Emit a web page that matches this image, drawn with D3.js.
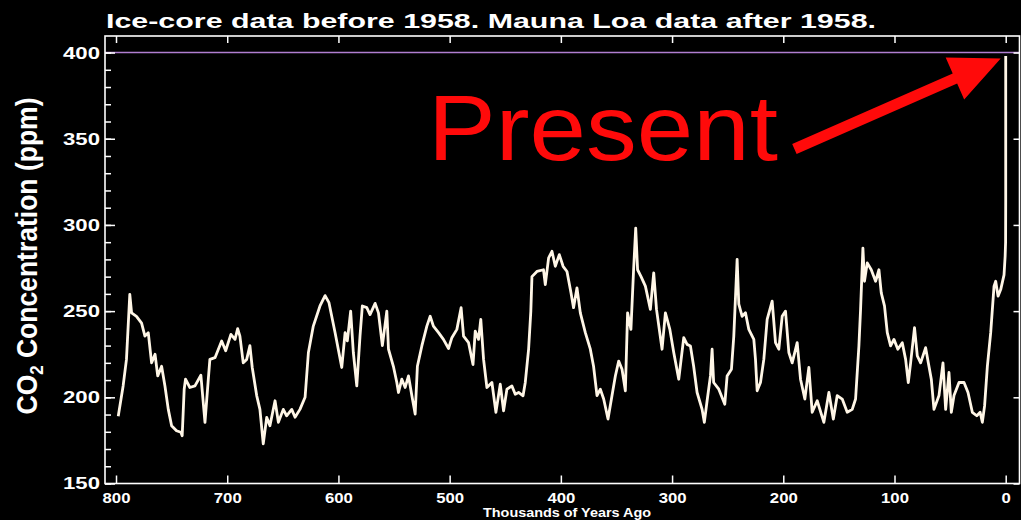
<!DOCTYPE html>
<html>
<head>
<meta charset="utf-8">
<script src="https://cdn.jsdelivr.net/npm/d3@7/dist/d3.min.js"></script>
<style>
  html, body { margin: 0; padding: 0; background: #000; }
  svg { display: block; }
  text { font-family: "Liberation Sans", Arial, sans-serif; }
</style>
</head>
<body>
<svg id="chart" width="1021" height="520"></svg>
<script>
// CO2 record: ice cores before 1958, Mauna Loa afterwards.
// Age in thousands of years before present, CO2 in ppm.
const kyrAgo = [
  798, 793.6, 790.6, 787.6, 786, 781.6, 777, 774, 771, 768, 764.9, 762.5, 759, 756, 753, 750,
  745.6, 741.7, 740.5, 738.7, 737.5, 733.6, 729, 723.7, 720, 717, 715.6, 711, 705, 701.4, 696.7,
  693, 690.6, 688.6, 685.6, 682.5, 679.6, 677.5, 673.5, 670.6, 667.6, 664.5, 661.6, 657, 654,
  649.6, 646.6, 642, 639, 634.6, 630, 627, 622.6, 616.6, 612, 608.5,
  603, 597, 594, 592, 589, 586.6, 583.5, 580.6, 578.5, 574.5, 571.6, 567, 564, 560.5, 556.5,
  555, 550.6, 547.5, 546, 543, 540, 537, 534, 531, 529, 525, 520.5, 517.5, 514.6, 510, 505.6,
  501, 498, 493.5, 489.7, 487.5, 483, 479, 477, 474, 472, 469.5, 466.5, 462, 458.4, 454.5,
  451.5, 448.5, 444, 441, 438, 434, 432, 429, 427, 426, 421.5, 415.6, 414, 411, 408, 405,
  401.4, 398, 394.5, 390.9, 388.6, 385.5, 382.5, 378, 373.5, 370.6, 367.5, 364.5, 361.5,
  357.6, 354, 351, 348, 345, 342, 340, 337, 334.6, 332.7, 331, 328, 324, 319.5, 316.5, 314,
  309, 306, 302, 298.5, 294,
  289.5, 286.5, 283.5, 280.6, 277.5, 273, 271, 268.5, 265.5, 264, 262.6, 258, 252.6, 250.5,
  246.6, 244.5, 241.5, 240, 237, 234, 231, 226.5, 225, 223.5, 220.5, 217.5, 214.5, 210, 207,
  204, 201,
  198, 195, 192, 187.5, 184.5, 180.6, 177, 174, 169.5, 163.5, 159, 155, 151.5, 147, 142.5,
  138, 135, 132, 130.5, 128.4, 127, 124.5, 120.9, 117, 114, 111.9, 109, 106.5, 103.5, 100.5,
  97, 93, 90, 87.6, 85.5, 82, 79.5, 76.5, 72, 69.6, 66.9, 64.5, 60, 56.4, 54, 51, 48.9, 46.5,
  42, 37.5, 33.9, 30, 26, 23, 21, 19, 16.5, 13.5, 10.5, 9, 6.9, 4.5, 1.5, 0.5, 0.1, 0, 0
];
const co2ppm = [
  189, 206.6, 222, 259.7, 249, 247, 243, 235.5, 237.5, 220, 225, 212.4, 218, 206.6, 193, 183.5,
  180.6, 179.7, 177.7, 204.7, 210.5, 205.7, 206.6, 212.8, 185.5, 210.5, 222, 223, 232.7, 227, 236.5,
  233.6, 239.8, 235.5, 220, 222, 230, 217.3, 201, 193, 173, 188.4, 183.5, 198, 185.5,
  193, 189.3, 193, 188.4, 193, 200, 226, 241.3, 253, 259, 254.9,
  237.5, 217.3, 237.5, 232.7, 250, 226, 206.6, 235.5, 253, 252, 248, 254.5, 249, 230, 250,
  227.9, 218, 208.6, 202.8, 210.5, 205.7, 212.4, 201, 190.3, 218, 229.8, 241.3, 247, 241.3, 237.5, 233.6,
  228.3, 234.6, 239.4, 252, 235.5, 231.7, 219, 238.4, 233.6, 245.2, 222, 205.7, 208.6, 191.3, 207.6,
  192.2, 204.7, 206.6, 201.8, 202.8, 200.9, 208.6, 227.9, 250, 270, 273, 274, 265.4, 280.9, 284.7, 276,
  282.8, 276, 273, 260.6, 252, 263.5, 249, 237.5, 227.9, 218, 201, 204.7, 199,
  187.4, 201, 212.4, 221, 216.3, 203.8, 249, 239.4, 274, 298.2, 274, 270.2, 264.5, 251, 272.2, 251,
  227.9, 249, 239.4, 226, 210.5,
  234.6, 230.7, 229.8, 218, 202.8, 193, 185.5, 198, 212.4, 227.9, 208.6, 204.7, 196, 212.4,
  216.3, 235.5, 280, 254, 247, 249, 239.4, 233.6, 222, 203.8, 208.6, 222, 245.2, 255.8, 231.7,
  227.9, 247,
  250, 226, 220, 231.7, 210.5, 199, 217.3, 191.3, 198, 185.5, 202.8, 187.4, 201, 199, 191.3,
  193, 199, 229.8, 251, 286.6, 267.3, 278, 274, 267.3, 274, 260.6, 253, 237.5, 229.8, 233.6,
  227.9, 231.7, 222, 208.6, 220, 240.4, 224, 220, 228.8, 220, 210.5, 193, 201, 220, 193, 214.4, 191.3, 201,
  208.6, 208.6, 202.8, 191.3, 189.3, 191.3, 185.5, 195, 218, 237.5, 264.5, 267.3, 258.7, 262.5, 271, 282, 290, 315, 398
];

// Axis ticks and labels
const xTicks = [800, 700, 600, 500, 400, 300, 200, 100, 0];
const yMajorTicks = [150, 200, 250, 300, 350, 400];
const yMinorTicks = d3.range(150, 401, 10);
const referenceLevel = 400;

const titleText = "Ice-core data before 1958. Mauna Loa data after 1958.";
const xAxisTitle = "Thousands of Years Ago";
const annotationText = "Present";
// Arrow from the label towards the latest measurement: [kyr ago, ppm]
const arrowFrom = [190, 344];
const arrowTo = [4.5, 396.6];

const svg = d3.select("#chart");
svg.append("rect").attr("width", 1021).attr("height", 520).attr("fill", "#000");

const plot = { left: 105, right: 1019.5, top: 36, bottom: 483.5 };

const x = d3.scaleLinear().domain([809.9, -12.4]).range([plot.left, plot.right]);
const y = d3.scaleLinear().domain([150, 409.6]).range([plot.bottom, plot.top]);

// Horizontal reference at 400 ppm
svg.append("line")
  .attr("x1", plot.left).attr("x2", plot.right)
  .attr("y1", y(referenceLevel)).attr("y2", y(referenceLevel))
  .attr("stroke", "#b07ed0").attr("stroke-width", 1.6);

// CO2 curve
const series = kyrAgo.map((k, i) => [k, co2ppm[i]]);
const line = d3.line().x(d => x(d[0])).y(d => y(d[1]));
svg.append("path")
  .datum(series)
  .attr("d", line)
  .attr("fill", "none")
  .attr("stroke", "#fff6e6")
  .attr("stroke-width", 2.8)
  .attr("stroke-linejoin", "round");

// Plot frame
svg.append("rect")
  .attr("x", plot.left).attr("y", plot.top)
  .attr("width", plot.right - plot.left).attr("height", plot.bottom - plot.top)
  .attr("fill", "none").attr("stroke", "#fff").attr("stroke-width", 1.6);

function styleAxis(g) {
  g.select(".domain").remove();
  g.selectAll(".tick line").attr("stroke", "#fff").attr("stroke-width", 1.5);
  g.selectAll(".tick text").attr("fill", "#fff").style("font-weight", "bold");
}

// Bottom axis
const xAxis = svg.append("g")
  .attr("transform", `translate(0,${plot.bottom})`)
  .call(d3.axisBottom(x).tickValues(xTicks).tickSizeInner(-8).tickSizeOuter(0).tickPadding(10).tickFormat(d3.format("d")))
  .call(styleAxis);
xAxis.selectAll(".tick text")
  .style("font-size", "14px")
  .attr("textLength", d => String(d).length * 9.3)
  .attr("lengthAdjust", "spacingAndGlyphs");

// Top axis (ticks only)
svg.append("g")
  .attr("transform", `translate(0,${plot.top})`)
  .call(d3.axisTop(x).tickValues(xTicks).tickSizeInner(-7).tickSizeOuter(0).tickFormat(""))
  .call(styleAxis);

// Left axis: minor then major ticks
svg.append("g")
  .attr("transform", `translate(${plot.left},0)`)
  .call(d3.axisLeft(y).tickValues(yMinorTicks).tickSizeInner(-6).tickSizeOuter(0).tickFormat(""))
  .call(styleAxis);
const yAxis = svg.append("g")
  .attr("transform", `translate(${plot.left},0)`)
  .call(d3.axisLeft(y).tickValues(yMajorTicks).tickSizeInner(-10).tickSizeOuter(0).tickPadding(5).tickFormat(d3.format("d")))
  .call(styleAxis);
yAxis.selectAll(".tick text")
  .style("font-size", "17px")
  .attr("textLength", 37)
  .attr("lengthAdjust", "spacingAndGlyphs");

// Right axis (ticks only)
svg.append("g")
  .attr("transform", `translate(${plot.right},0)`)
  .call(d3.axisRight(y).tickValues(yMajorTicks).tickSizeInner(-6).tickSizeOuter(0).tickFormat(""))
  .call(styleAxis);

// Title
svg.append("text")
  .attr("x", 106).attr("y", 28)
  .attr("fill", "#fff")
  .style("font-size", "21px").style("font-weight", "bold")
  .attr("textLength", 770).attr("lengthAdjust", "spacingAndGlyphs")
  .text(titleText);

// Y axis title with subscript
const yTitle = svg.append("text")
  .attr("transform", "translate(37,256) rotate(-90)")
  .attr("text-anchor", "middle")
  .attr("fill", "#fff")
  .style("font-size", "30px").style("font-weight", "bold")
  .attr("textLength", 317).attr("lengthAdjust", "spacingAndGlyphs");
yTitle.append("tspan").text("CO");
yTitle.append("tspan").attr("dy", 6).style("font-size", "19px").text("2");
yTitle.append("tspan").attr("dy", -6).text(" Concentration (ppm)");

// X axis title
svg.append("text")
  .attr("x", 567).attr("y", 517)
  .attr("text-anchor", "middle")
  .attr("fill", "#fff")
  .style("font-size", "12.5px").style("font-weight", "bold")
  .attr("textLength", 168).attr("lengthAdjust", "spacingAndGlyphs")
  .text(xAxisTitle);

// Annotation
svg.append("text")
  .attr("x", 428).attr("y", 160)
  .attr("fill", "#ff0a0a")
  .style("font-size", "92px")
  .attr("textLength", 350).attr("lengthAdjust", "spacingAndGlyphs")
  .text(annotationText);

const ax0 = x(arrowFrom[0]), ay0 = y(arrowFrom[1]);
const ax1 = x(arrowTo[0]), ay1 = y(arrowTo[1]);
const ang = Math.atan2(ay1 - ay0, ax1 - ax0);
const headLen = 50, headHalf = 23, shaftHalf = 5.5;
const ux = Math.cos(ang), uy = Math.sin(ang), nx = -uy, ny = ux;
const bx = ax1 - ux * headLen, by = ay1 - uy * headLen;
const arrowPts = [
  [ax0 + nx * shaftHalf, ay0 + ny * shaftHalf],
  [bx + nx * shaftHalf, by + ny * shaftHalf],
  [bx + nx * headHalf, by + ny * headHalf],
  [ax1, ay1],
  [bx - nx * headHalf, by - ny * headHalf],
  [bx - nx * shaftHalf, by - ny * shaftHalf],
  [ax0 - nx * shaftHalf, ay0 - ny * shaftHalf]
];
svg.append("polygon")
  .attr("points", arrowPts.map(p => p.join(",")).join(" "))
  .attr("fill", "#ff0a0a");
</script>
</body>
</html>
